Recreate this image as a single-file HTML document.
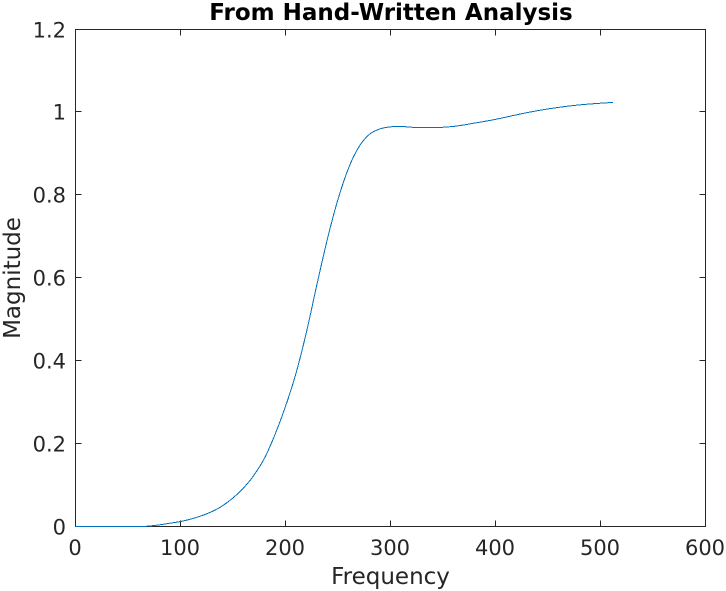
<!DOCTYPE html>
<html>
<head>
<meta charset="utf-8">
<style>
html,body{margin:0;padding:0;background:#fff;}
svg{display:block;}
text{font-family:"DejaVu Sans","Liberation Sans",sans-serif;fill:#262626;}
</style>
</head>
<body>
<svg id="chart" xmlns="http://www.w3.org/2000/svg" width="726" height="591" viewBox="0 0 726 591">
<rect x="0" y="0" width="726" height="591" fill="#ffffff"/>
<text x="391" y="20" text-anchor="middle" font-size="23" font-weight="bold" style="fill:#000">From Hand-Written Analysis</text>
<text x="390.5" y="584" text-anchor="middle" font-size="23">Frequency</text>
<text x="0" y="0" text-anchor="middle" font-size="23" transform="translate(20 278) rotate(-90)">Magnitude</text>
<g id="axes"></g>
<g id="series"></g>
</svg>
<script>
const xTicks = [0, 100, 200, 300, 400, 500, 600];
const yTicks = [0, 0.2, 0.4, 0.6, 0.8, 1, 1.2];
const yTickLabels = ['0', '0.2', '0.4', '0.6', '0.8', '1', '1.2'];
const frequency = [0, 30, 67, 80, 90, 100, 110, 120, 130, 140, 150, 160, 170, 180, 190, 200, 210, 220, 230, 240, 250, 260, 270, 280, 290, 300, 310, 320, 340, 360, 380, 400, 420, 440, 460, 480, 500, 512];
const magnitude = [0, 0, 0.0005, 0.004, 0.008, 0.012, 0.018, 0.026, 0.036, 0.05, 0.069, 0.093, 0.124, 0.165, 0.222, 0.29, 0.37, 0.47, 0.585, 0.695, 0.79, 0.865, 0.917, 0.947, 0.96, 0.965, 0.966, 0.964, 0.963, 0.966, 0.974, 0.983, 0.994, 1.004, 1.012, 1.018, 1.022, 1.024];

const NS = 'http://www.w3.org/2000/svg';
const xMin = 0, xMax = 600, yMin = 0, yMax = 1.2;
const left = 75, right = 705, top_ = 29, bottom = 526, tickLen = 6;
const axisColor = '#262626';

function xScale(v) { return left + (v - xMin) / (xMax - xMin) * (right - left) + 0.5; }
function yScale(v) { return bottom - (v - yMin) / (yMax - yMin) * (bottom - top_) + 0.5; }
function snapY(v) { return Math.floor(yScale(v) - 0.5 + 1e-6) + 0.5; }
function snapX(v) { return Math.floor(xScale(v) - 0.5 + 1e-6) + 0.5; }

const axes = document.getElementById('axes');
const series = document.getElementById('series');

function addLine(x1, y1, x2, y2) {
  const l = document.createElementNS(NS, 'line');
  l.setAttribute('x1', x1);
  l.setAttribute('y1', y1);
  l.setAttribute('x2', x2);
  l.setAttribute('y2', y2);
  l.setAttribute('stroke', axisColor);
  l.setAttribute('stroke-width', '1');
  l.setAttribute('shape-rendering', 'crispEdges');
  axes.appendChild(l);
  return l;
}

const box = document.createElementNS(NS, 'rect');


box.setAttribute('x', left + 0.5);
box.setAttribute('y', top_ + 0.5);
box.setAttribute('width', right - left);
box.setAttribute('height', bottom - top_);
box.setAttribute('fill', 'none');
box.setAttribute('stroke', axisColor);
box.setAttribute('shape-rendering', 'crispEdges');
axes.appendChild(box);

xTicks.forEach(function (t) {
  const x = snapX(t);
  const b = addLine(x, bottom + 0.5, x, bottom + 0.5 - tickLen);
  
  
  const a = addLine(x, top_ + 0.5, x, top_ + 0.5 + tickLen);
  
  
  const label = document.createElementNS(NS, 'text');
  
  
  label.setAttribute('x', x - 0.5);
  label.setAttribute('y', 555);
  label.setAttribute('text-anchor', 'middle');
  label.setAttribute('font-size', '21');
  label.textContent = String(t);
  axes.appendChild(label);
});

yTicks.forEach(function (t, i) {
  const y = snapY(t);
  const a = addLine(left + 0.5, y, left + 0.5 + tickLen, y);
  
  
  const b = addLine(right + 0.5, y, right + 0.5 - tickLen, y);
  
  
  const label = document.createElementNS(NS, 'text');
  
  
  label.setAttribute('x', 66);
  label.setAttribute('y', y + 8);
  label.setAttribute('text-anchor', 'end');
  label.setAttribute('font-size', '21');
  label.textContent = yTickLabels[i];
  axes.appendChild(label);
});

function smoothPath(xs, ys) {
  let d = 'M' + xs[0].toFixed(2) + ' ' + ys[0].toFixed(2);
  for (let i = 0; i < xs.length - 1; i++) {
    const p0 = Math.max(i - 1, 0);
    const p3 = Math.min(i + 2, xs.length - 1);
    const h = (xs[i + 1] - xs[i]) / 3;
    const s1 = (ys[i + 1] - ys[p0]) / (xs[i + 1] - xs[p0]);
    const s2 = (ys[p3] - ys[i]) / (xs[p3] - xs[i]);
    d += ' C' + (xs[i] + h).toFixed(2) + ' ' + (ys[i] + s1 * h).toFixed(2) +
         ' ' + (xs[i + 1] - h).toFixed(2) + ' ' + (ys[i + 1] - s2 * h).toFixed(2) +
         ' ' + xs[i + 1].toFixed(2) + ' ' + ys[i + 1].toFixed(2);
  }
  return d;
}

const curve = document.createElementNS(NS, 'path');


curve.setAttribute('d', smoothPath(frequency.map(xScale), magnitude.map(yScale)));
curve.setAttribute('fill', 'none');
curve.setAttribute('stroke', '#0072BD');
curve.setAttribute('stroke-width', '1');
curve.setAttribute('shape-rendering', 'crispEdges');
series.appendChild(curve);
</script>
</body>
</html>
